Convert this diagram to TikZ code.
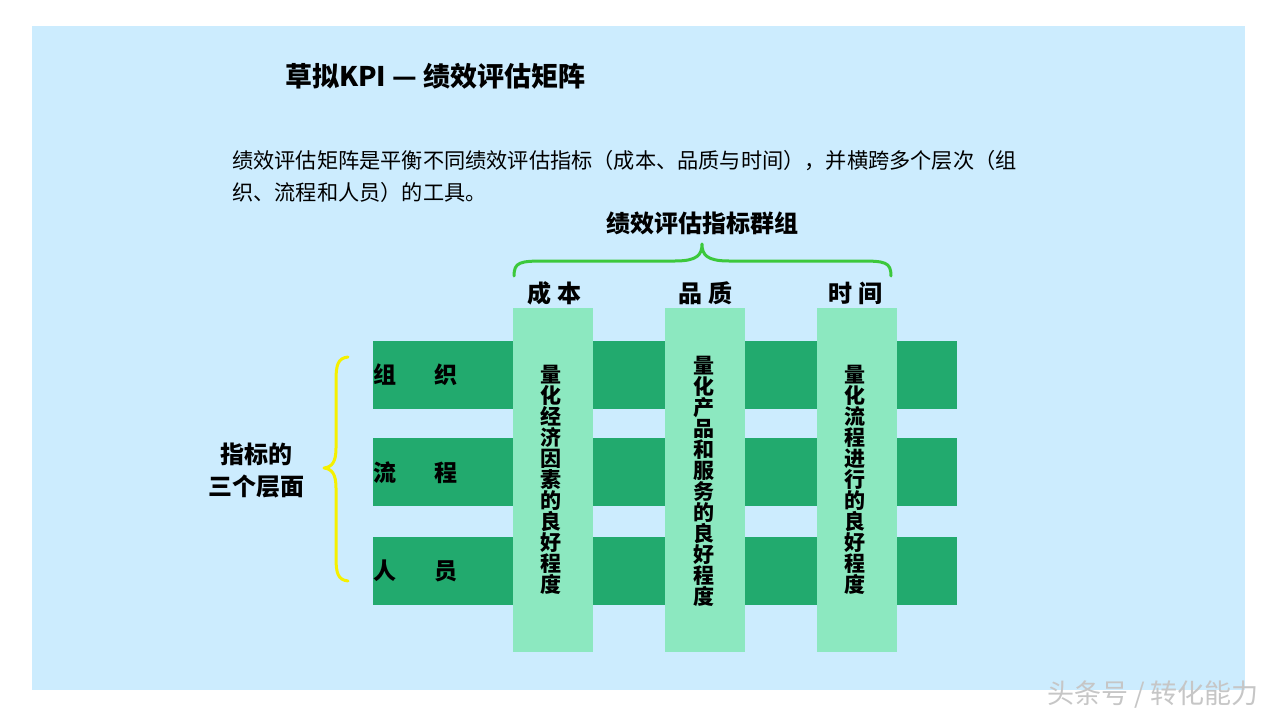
\documentclass[tikz,border=0pt]{standalone}
\usepackage{fontspec}
\setmainfont{Noto Sans CJK SC}
\definecolor{bgblue}{HTML}{CCECFE}
\definecolor{rowgreen}{HTML}{22AA6E}
\definecolor{colgreen}{HTML}{8CE8C0}
\definecolor{bracegreen}{HTML}{3CC83C}
\definecolor{braceyellow}{HTML}{F5F000}
\tikzset{
  rowbar/.style={fill=rowgreen, draw=none},
  colbar/.style={fill=colgreen, draw=none},
  rowlabel/.style={anchor=west, inner sep=0pt, font=\fontsize{23}{23}\selectfont\bfseries},
  collabel/.style={inner sep=0pt, font=\fontsize{24}{24}\selectfont\bfseries},
  vtext/.style={inner sep=0pt, align=center, font=\fontsize{21}{21}\selectfont\bfseries},
  bracepath/.style={line width=3pt, line cap=round, line join=round},
}
\begin{document}
\begin{tikzpicture}[x=1pt,y=-1pt]
\useasboundingbox (0,0) rectangle (1280,720);
\fill[white] (0,0) rectangle (1280,720);
\fill[bgblue] (32,26) rectangle (1245,690);

% title and paragraph
\node[anchor=west, inner sep=0pt, font=\fontsize{27}{27}\selectfont\bfseries] (title) at (285,76) {草拟KPI — 绩效评估矩阵};
\node[anchor=north west, inner sep=0pt, align=left, font=\fontsize{21.2}{32}\selectfont] (para) at (232,150)
  {绩效评估矩阵是平衡不同绩效评估指标（成本、品质与时间），并横跨多个层次（组\\织、流程和人员）的工具。};

% group label and green brace
\node[collabel] (group) at (702,223) {绩效评估指标群组};
\draw[bracegreen, bracepath] (514,276) .. controls (514,262) and (520,261) .. (545,261)
  -- (675,261) .. controls (697,261) and (702,255) .. (702,244)
  .. controls (702,255) and (707,261) .. (729,261)
  -- (860,261) .. controls (885,261) and (891,262) .. (891,276);

% rows
\foreach \y in {341, 438, 537}{
  \fill[rowbar] (373,\y) rectangle (957,\y+68);
}
% columns
\fill[colbar] (513,308) rectangle (593,652);
\fill[colbar] (665,308) rectangle (745,652);
\fill[colbar] (817,308) rectangle (897,652);

% column headers
\node[collabel] (c1) at (554,293) {成\hspace{6pt}本};
\node[collabel] (c2) at (705,293) {品\hspace{6pt}质};
\node[collabel] (c3) at (855,293) {时\hspace{6pt}间};

% row labels
\node[rowlabel] (l1) at (373,375) {组\hspace{38pt}织};
\node[rowlabel] (l2) at (373,473) {流\hspace{38pt}程};
\node[rowlabel] (l3) at (373,571) {人\hspace{38pt}员};

% vertical texts
\node[vtext] (v1) at (551,480) {量\\化\\经\\济\\因\\素\\的\\良\\好\\程\\度};
\node[vtext] (v2) at (704,481) {量\\化\\产\\品\\和\\服\\务\\的\\良\\好\\程\\度};
\node[vtext] (v3) at (855,480) {量\\化\\流\\程\\进\\行\\的\\良\\好\\程\\度};

% left label and yellow brace
\node[inner sep=0pt, align=center, font=\fontsize{24}{32}\selectfont\bfseries] (levels) at (256,471) {指标的\\三个层面};
\draw[braceyellow, bracepath] (348,357) .. controls (338,358) and (336,365) .. (336,380)
  -- (336,448) .. controls (336,462) and (332,467) .. (324,468)
  .. controls (332,469) and (336,474) .. (336,488)
  -- (336,558) .. controls (336,573) and (338,580) .. (348,581);

% watermark
\node[inner sep=0pt, text=gray!45, font=\fontsize{27}{27}\selectfont] (wm) at (1153,695) {头条号 / 转化能力};
\end{tikzpicture}
\end{document}
